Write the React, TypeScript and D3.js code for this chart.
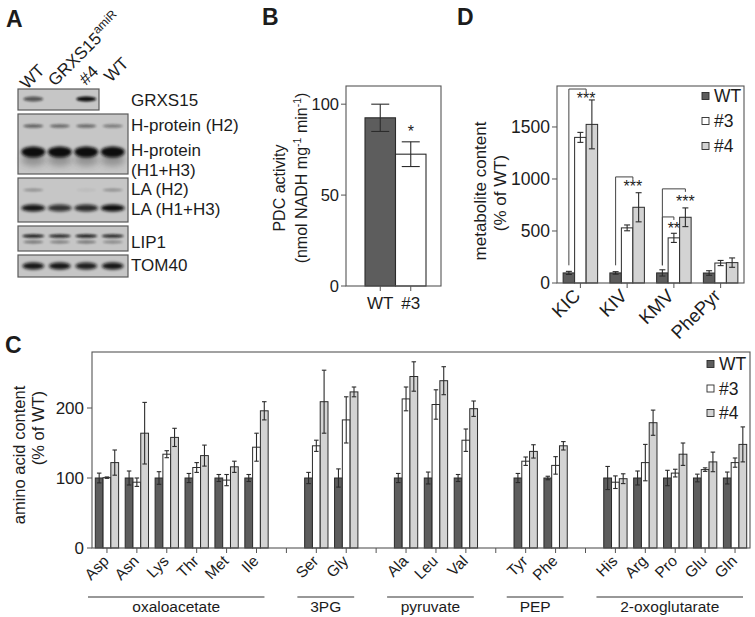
import React from "react";
import * as d3 from "d3";

const FONT = "'Liberation Sans', Arial, Helvetica, sans-serif";
const INK = "#1c1c1c";
const FRAME = "#555555";
const BAR_STROKE = "#2b2b2b";

// ---------- shared series ----------
const seriesNames = ["WT", "#3", "#4"];
const seriesFill = ["#5d5d5d", "#ffffff", "#d3d3d3"];

// ---------- Panel A (immunoblot, band intensities per lane) ----------
const blotLaneLabels = ["WT", "GRXS15", "#4", "WT"];
const grxs15Band = [0.6, 0, 1.0];
const hProteinH2Band = [0.55, 0.5, 0.5, 0.4];
const hProteinH1H3Band = [1.0, 1.0, 1.0, 1.0];
const laH2Band = [0.3, 0.0, 0.06, 0.3];
const laH1H3Band = [0.95, 0.8, 0.85, 1.0];
const lip1UpperBand = [0.9, 0.85, 0.9, 0.85];
const lip1LowerBand = [0.45, 0.4, 0.45, 0.35];
const tom40Band = [0.95, 0.95, 0.9, 0.95];
const blotRowLabels = ["GRXS15", "H-protein (H2)", "H-protein", "(H1+H3)", "LA (H2)", "LA (H1+H3)", "LIP1", "TOM40"];

// ---------- Panel B ----------
const pdcCategories = ["WT", "#3"];
const pdcValues = [92.5, 72.5];
const pdcErrors = [7.5, 6.8];
const pdcTicks = [0, 50, 100];

// ---------- Panel C ----------
const aaSlots = ["Asp", "Asn", "Lys", "Thr", "Met", "Ile", "_g1", "Ser", "Gly", "_g2", "Ala", "Leu", "Val", "_g3", "Tyr", "Phe", "_g4", "His", "Arg", "Pro", "Glu", "Gln"];
const aaNames = ["Asp", "Asn", "Lys", "Thr", "Met", "Ile", "Ser", "Gly", "Ala", "Leu", "Val", "Tyr", "Phe", "His", "Arg", "Pro", "Glu", "Gln"];
const aaWT = [100, 100, 100, 100, 100, 100, 100, 100, 100, 100, 100, 100, 100, 100, 100, 100, 100, 100];
const aaWTErr = [7, 10, 9, 6.5, 5, 5, 8, 13, 6.5, 8.5, 5, 6.5, 2.5, 16.5, 10, 11, 5.5, 8.5];
const aa3 = [100.5, 94, 134, 115, 97, 144, 146, 183, 213, 205, 154, 124, 118, 94, 122, 107, 112, 122];
const aa3Err = [1, 6, 5, 7, 8, 20, 8, 33, 17, 21, 16, 6, 12.5, 9, 26, 5.5, 2.5, 6.6];
const aa4 = [122, 164, 158, 132, 116, 196, 209, 223, 245, 239, 199, 138, 146, 99, 179, 134, 123, 148];
const aa4Err = [18, 44, 13, 15, 8, 13, 45, 7, 21, 20, 11, 9.5, 6, 7, 18, 16, 14, 25];
const aaTicks = [0, 100, 200];
const aaGroupNames = ["oxaloacetate", "3PG", "pyruvate", "PEP", "2-oxoglutarate"];
const aaGroupFirst = ["Asp", "Ser", "Ala", "Tyr", "His"];
const aaGroupLast = ["Ile", "Gly", "Val", "Phe", "Gln"];

// ---------- Panel D ----------
const metCategories = ["KIC", "KIV", "KMV", "PhePyr"];
const metWT = [97, 97, 97, 96];
const metWTErr = [15, 12, 30, 22];
const met3 = [1400, 530, 434, 192];
const met3Err = [48, 28, 44, 25];
const met4 = [1525, 728, 632, 196];
const met4Err = [235, 140, 90, 45];
const metTicks = [0, 500, 1000, 1500];
// significance brackets: category, end position (in bar units from WT), top value, label value, label
const sigCats = ["KIC", "KIV", "KMV", "KMV"];
const sigEnd = [1.5, 1.5, 2, 1];
const sigTop = [1865, 1020, 905, 635];
const sigLabelVal = [1720, 875, 730, 470];
const sigLabels = ["***", "***", "***", "**"];

function ErrorBar({ x, y0, y1, cap }: { x: number; y0: number; y1: number; cap: number }) {
  return (
    <g stroke={BAR_STROKE} strokeWidth={1.1} fill="none">
      <line x1={x} x2={x} y1={y0} y2={y1} />
      <line x1={x - cap / 2} x2={x + cap / 2} y1={y0} y2={y0} />
      <line x1={x - cap / 2} x2={x + cap / 2} y1={y1} y2={y1} />
    </g>
  );
}

function Legend({ x, y, gap }: { x: number; y: number; gap: number }) {
  return (
    <g>
      {seriesNames.map((n, i) => (
        <g key={n}>
          <rect x={x} y={y + i * gap - 3.5} width={7} height={7} fill={seriesFill[i]} stroke={BAR_STROKE} strokeWidth={0.9} />
          <text x={x + 12} y={y + i * gap + 6} fontSize={17.5} fill={INK}>{n}</text>
        </g>
      ))}
    </g>
  );
}

function PanelA() {
  const laneX = d3.scaleBand<number>().domain([0, 1, 2, 3]).range([19, 127]).paddingInner(0.12).paddingOuter(0.1);
  const lc = (i: number) => (laneX(i) as number) + laneX.bandwidth() / 2;
  const boxes = [
    { y: 89, h: 21, w: 81 },
    { y: 114, h: 60, w: 110 },
    { y: 178, h: 44, w: 110 },
    { y: 226, h: 25, w: 110 },
    { y: 255, h: 22, w: 110 },
  ];
  const bandRows: { vals: number[]; y: number; ry: number; rx: number; blur: string }[] = [
    { vals: grxs15Band, y: 99, ry: 2.4, rx: 10, blur: "b1" },
    { vals: hProteinH2Band, y: 126, ry: 1.8, rx: 10, blur: "b1" },
    { vals: hProteinH1H3Band, y: 152, ry: 5.5, rx: 12, blur: "b2" },
    { vals: laH2Band, y: 190, ry: 1.5, rx: 10, blur: "b1" },
    { vals: laH1H3Band, y: 208, ry: 3.6, rx: 12, blur: "b2" },
    { vals: lip1UpperBand, y: 236, ry: 1.7, rx: 11, blur: "b1" },
    { vals: lip1LowerBand, y: 242, ry: 1.5, rx: 10, blur: "b1" },
    { vals: tom40Band, y: 266, ry: 3.5, rx: 11, blur: "b2" },
  ];
  const rowLabelY = [106, 131, 156, 175.5, 195, 214.5, 248, 271];
  const headerAnchors = [
    [27, 90],
    [55, 87],
    [86, 86],
    [111, 83],
  ];
  return (
    <g>
      <defs>
        <filter id="b1" x="-50%" y="-200%" width="200%" height="500%">
          <feGaussianBlur stdDeviation="1.1" />
        </filter>
        <filter id="b2" x="-50%" y="-200%" width="200%" height="500%">
          <feGaussianBlur stdDeviation="1.8" />
        </filter>
        <filter id="b3" x="-50%" y="-100%" width="200%" height="300%">
          <feGaussianBlur stdDeviation="3" />
        </filter>
      </defs>
      <text x={6} y={27} fontSize={23} fontWeight="bold" fill={INK}>A</text>
      {boxes.map((b, i) => (
        <rect key={i} x={18} y={b.y} width={b.w} height={b.h} fill="#c6c6c6" stroke="#5a5a5a" strokeWidth={1.2} />
      ))}
      {/* smear below H-protein band */}
      {hProteinH1H3Band.map((v, i) => (
        <ellipse key={"s" + i} cx={lc(i)} cy={160} rx={12} ry={6} fill="#333" opacity={0.35 * v} filter="url(#b3)" />
      ))}
      {bandRows.map((r, ri) =>
        r.vals.map((v, i) =>
          v > 0 ? (
            <ellipse key={ri + "-" + i} cx={lc(i)} cy={r.y} rx={r.rx} ry={r.ry} fill="#0d0d0d" opacity={v} filter={`url(#${r.blur})`} />
          ) : null
        )
      )}
      {blotRowLabels.map((l, i) => (
        <text key={l + i} x={131} y={rowLabelY[i]} fontSize={17} fill={INK}>{l}</text>
      ))}
      {blotLaneLabels.map((l, i) => (
        <text key={"h" + i} transform={`translate(${headerAnchors[i][0]},${headerAnchors[i][1]}) rotate(-45)`} fontSize={17} fill={INK}>
          {l}
          {i === 1 ? <tspan fontSize={12} dy={-7}>amiR</tspan> : null}
        </text>
      ))}
    </g>
  );
}

function PanelB() {
  const x = d3.scaleBand().domain(pdcCategories).range([365, 426]);
  const y = d3.scaleLinear().domain([0, 110]).range([286, 86]);
  const bw = x.bandwidth();
  return (
    <g>
      <text x={262} y={25} fontSize={23} fontWeight="bold" fill={INK}>B</text>
      {pdcCategories.map((c, i) => (
        <g key={c}>
          <rect x={x(c)} y={y(pdcValues[i])} width={bw} height={y(0) - y(pdcValues[i])} fill={seriesFill[i]} stroke={BAR_STROKE} strokeWidth={1.1} />
          <ErrorBar x={(x(c) as number) + bw / 2} y0={y(pdcValues[i] + pdcErrors[i])} y1={y(pdcValues[i] - pdcErrors[i])} cap={18} />
          <line x1={(x(c) as number) + bw / 2} x2={(x(c) as number) + bw / 2} y1={286} y2={291} stroke={FRAME} />
          <text x={(x(c) as number) + bw / 2} y={309} textAnchor="middle" fontSize={17} fill={INK}>{c}</text>
        </g>
      ))}
      <text x={(x("#3") as number) + bw / 2} y={137} textAnchor="middle" fontSize={16} fill={INK}>*</text>
      <rect x={346} y={86} width={95} height={200} fill="none" stroke={FRAME} strokeWidth={1.1} />
      {pdcTicks.map((t) => (
        <g key={t}>
          <line x1={341} x2={346} y1={y(t)} y2={y(t)} stroke={FRAME} />
          <text x={339} y={y(t) + 6} textAnchor="end" fontSize={16.5} fill={INK}>{t}</text>
        </g>
      ))}
      <text transform="translate(285,188) rotate(-90)" textAnchor="middle" fontSize={16} fill={INK}>PDC activity</text>
      <text transform="translate(307,178) rotate(-90)" textAnchor="middle" fontSize={16} fill={INK}>
        (nmol NADH mg<tspan fontSize={10.5} dy={-6}>-1</tspan>
        <tspan dy={6}> min</tspan>
        <tspan fontSize={10.5} dy={-6}>-1</tspan>
        <tspan dy={6}>)</tspan>
      </text>
    </g>
  );
}

function PanelC() {
  const x = d3.scaleBand().domain(aaSlots).range([92, 750]);
  const y = d3.scaleLinear().domain([0, 280]).range([548, 352]);
  const bw = x.bandwidth();
  const barW = bw * 0.26;
  const series = [
    [aaWT, aaWTErr],
    [aa3, aa3Err],
    [aa4, aa4Err],
  ];
  const center = (n: string) => (x(n) as number) + bw / 2;
  return (
    <g>
      <text x={5} y={353} fontSize={23} fontWeight="bold" fill={INK}>C</text>
      {aaNames.map((n, i) => (
        <g key={n}>
          {series.map(([vals, errs], s) => {
            const bx = center(n) + (s - 1.5) * barW;
            return (
              <g key={s}>
                <rect x={bx} y={y(vals[i])} width={barW} height={y(0) - y(vals[i])} fill={seriesFill[s]} stroke={BAR_STROKE} strokeWidth={1} />
                <ErrorBar x={bx + barW / 2} y0={y(vals[i] + errs[i])} y1={y(vals[i] - errs[i])} cap={4.5} />
              </g>
            );
          })}
        </g>
      ))}
      <rect x={92} y={352} width={658} height={196} fill="none" stroke={FRAME} strokeWidth={1.1} />
      {aaSlots.map((s) => (
        <line key={s} x1={center(s)} x2={center(s)} y1={548} y2={553} stroke={FRAME} />
      ))}
      {aaNames.map((n) => (
        <text key={n} transform={`translate(${center(n) + 3},${562}) rotate(-45)`} textAnchor="end" fontSize={15.5} fill={INK}>{n}</text>
      ))}
      {aaTicks.map((t) => (
        <g key={t}>
          <line x1={87} x2={92} y1={y(t)} y2={y(t)} stroke={FRAME} />
          <text x={84} y={y(t) + 6} textAnchor="end" fontSize={17} fill={INK}>{t}</text>
        </g>
      ))}
      {aaGroupNames.map((g, i) => {
        const x1 = (x(aaGroupFirst[i]) as number) - 4;
        const x2 = (x(aaGroupLast[i]) as number) + bw - 7;
        return (
          <g key={g}>
            <line x1={x1} x2={x2} y1={597} y2={597} stroke="#333" strokeWidth={1.1} />
            <text x={(x1 + x2) / 2} y={612} textAnchor="middle" fontSize={15.5} fill={INK}>{g}</text>
          </g>
        );
      })}
      <text transform="translate(25,455) rotate(-90)" textAnchor="middle" fontSize={16.5} fill={INK}>amino acid content</text>
      <text transform="translate(44,428) rotate(-90)" textAnchor="middle" fontSize={16.5} fill={INK}>(% of WT)</text>
      <Legend x={707} y={364} gap={24.5} />
    </g>
  );
}

function PanelD() {
  const x = d3.scaleBand().domain(metCategories).range([557, 744]);
  const y = d3.scaleLinear().domain([0, 1894]).range([283, 86]);
  const bw = x.bandwidth();
  const barW = bw * 0.246;
  const series = [
    [metWT, metWTErr],
    [met3, met3Err],
    [met4, met4Err],
  ];
  const center = (n: string) => (x(n) as number) + bw / 2;
  const barCenter = (n: string, k: number) => center(n) + (k - 1) * barW;
  return (
    <g>
      <text x={457} y={25} fontSize={23} fontWeight="bold" fill={INK}>D</text>
      {metCategories.map((n, i) => (
        <g key={n}>
          {series.map(([vals, errs], s) => {
            const bx = center(n) + (s - 1.5) * barW;
            return (
              <g key={s}>
                <rect x={bx} y={y(vals[i])} width={barW} height={y(0) - y(vals[i])} fill={seriesFill[s]} stroke={BAR_STROKE} strokeWidth={1} />
                <ErrorBar x={bx + barW / 2} y0={y(vals[i] + errs[i])} y1={y(vals[i] - errs[i])} cap={6} />
              </g>
            );
          })}
        </g>
      ))}
      {sigCats.map((c, i) => {
        const xa = barCenter(c, 0);
        const xb = barCenter(c, sigEnd[i]);
        const yt = y(sigTop[i]);
        return (
          <g key={i}>
            <path d={`M${xa},${y(170)}V${yt}H${xb}V${yt + 3}`} fill="none" stroke="#444" strokeWidth={1} />
            <text x={xb} y={y(sigLabelVal[i])} textAnchor="middle" fontSize={16} fill={INK}>{sigLabels[i]}</text>
          </g>
        );
      })}
      <rect x={557} y={86} width={187} height={197} fill="none" stroke={FRAME} strokeWidth={1.1} />
      {metCategories.map((n) => (
        <g key={n}>
          <line x1={center(n)} x2={center(n)} y1={283} y2={288} stroke={FRAME} />
          <text transform={`translate(${center(n) + 1},${297}) rotate(-45)`} textAnchor="end" fontSize={18.5} fill={INK}>{n}</text>
        </g>
      ))}
      {metTicks.map((t) => (
        <g key={t}>
          <line x1={552} x2={557} y1={y(t)} y2={y(t)} stroke={FRAME} />
          <text x={550} y={y(t) + 6} textAnchor="end" fontSize={17.5} fill={INK}>{t}</text>
        </g>
      ))}
      <text transform="translate(486,191) rotate(-90)" textAnchor="middle" fontSize={17} fill={INK}>metabolite content</text>
      <text transform="translate(506,193) rotate(-90)" textAnchor="middle" fontSize={17} fill={INK}>(% of WT)</text>
      <Legend x={702} y={96} gap={25} />
    </g>
  );
}

export default function App() {
  return (
    <svg width={755} height={617} style={{ position: "absolute", left: 0, top: 0, background: "#fff" }} fontFamily={FONT}>
      <rect width={755} height={617} fill="#fff" />
      <PanelA />
      <PanelB />
      <PanelC />
      <PanelD />
    </svg>
  );
}
